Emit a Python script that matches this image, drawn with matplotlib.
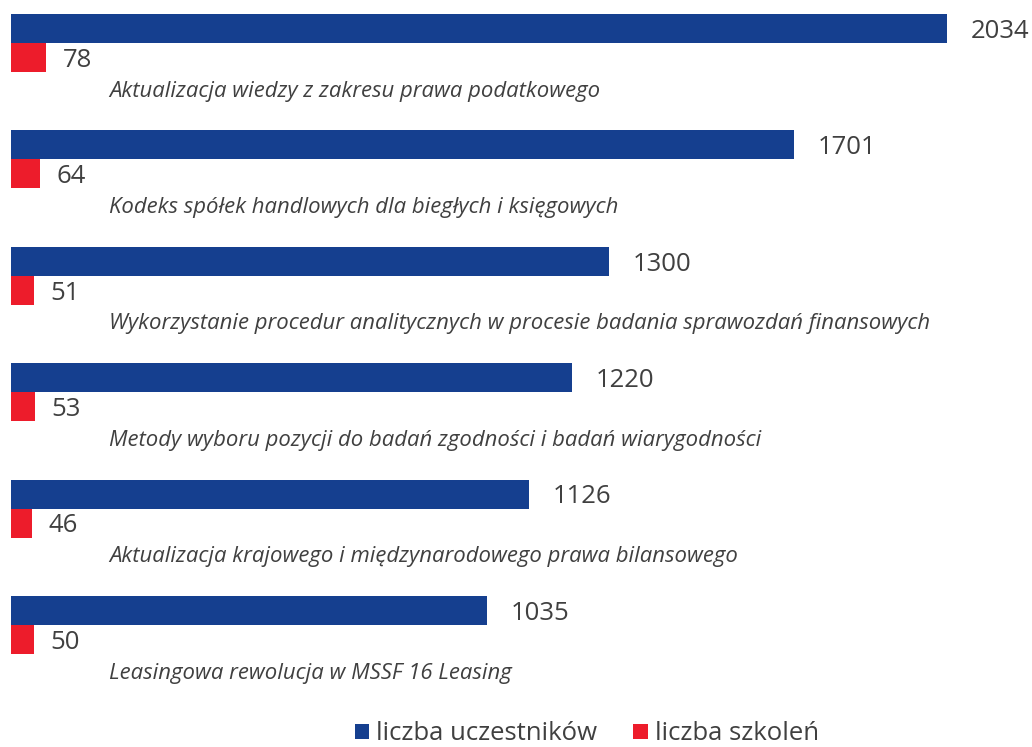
import matplotlib
matplotlib.use("Agg")
import matplotlib.pyplot as plt
import numpy as np

categories = [
    "Aktualizacja wiedzy z zakresu prawa podatkowego",
    "Kodeks spółek handlowych dla biegłych i księgowych",
    "Wykorzystanie procedur analitycznych w procesie badania sprawozdań finansowych",
    "Metody wyboru pozycji do badań zgodności i badań wiarygodności",
    "Aktualizacja krajowego i międzynarodowego prawa bilansowego",
    "Leasingowa rewolucja w MSSF 16 Leasing",
]
participants = [2034, 1701, 1300, 1220, 1126, 1035]
trainings = [78, 64, 51, 53, 46, 50]
series_names = ["liczba uczestników", "liczba szkoleń"]

BLUE = "#153F8F"
RED = "#ED1C2B"
TXT = "#404040"

plt.rcParams['font.family'] = ['Open Sans', 'DejaVu Sans']

W, H = 1032, 747
fig = plt.figure(figsize=(W / 100, H / 100), dpi=100)
left_px = 10.5
ax = fig.add_axes([left_px / W, 0, 1 - left_px / W, 1])
ax.axis('off')

px_per_unit = 0.4604
ax.set_xlim(0, (W - left_px) / px_per_unit)
step = 116.4
ax.set_ylim((H - 28.5) / step, -28.5 / step)

y = np.arange(len(categories))
bh = 29 / step
b1 = ax.barh(y, participants, height=bh, color=BLUE, label=series_names[0])
b2 = ax.barh(y + bh, trainings, height=bh, color=RED, label=series_names[1])

for i in range(len(categories)):
    ax.annotate(str(participants[i]), (participants[i], y[i]), xytext=(17, -2),
                textcoords='offset points', va='center', ha='left',
                fontsize=18.5, color=TXT)
    ax.annotate(str(trainings[i]), (trainings[i], y[i] + bh), xytext=(12, -2),
                textcoords='offset points', va='center', ha='left',
                fontsize=18.5, color=TXT)
    ax.text((109 - left_px) / px_per_unit, y[i] + (91 - 28.5) / step, categories[i],
            fontsize=15.9, style='italic', color=TXT, va='center', ha='left')

leg = fig.legend(handles=[b1, b2], loc='center', bbox_to_anchor=(587 / W, 1 - 734 / H),
                 ncol=2, frameon=False, fontsize=18.5, handlelength=0.55, handleheight=0.55,
                 handletextpad=0.3, columnspacing=1.4, borderpad=0)
for t in leg.get_texts():
    t.set_color(TXT)

fig.savefig("out.png", dpi=100)
